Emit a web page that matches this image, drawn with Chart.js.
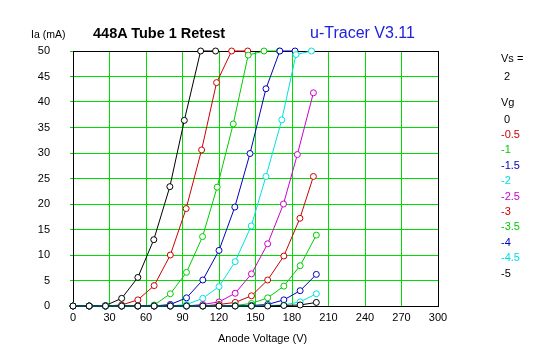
<!DOCTYPE html>
<html>
<head>
<meta charset="utf-8">
<script src="https://cdn.jsdelivr.net/npm/chart.js@4/dist/chart.umd.min.js"></script>
<style>
  html, body { margin: 0; padding: 0; background: #fff; }
  #wrap { position: relative; width: 547px; height: 357px; overflow: hidden; background: #fff; }
  #c { position: absolute; left: 0; top: 0; }
  .t { position: absolute; white-space: pre; font-family: "Liberation Sans", Arial, sans-serif; color: #000; }
</style>
</head>
<body>
<div id="wrap">
  <canvas id="c" width="547" height="357"></canvas>
  <div class="t" style="left:31px; top:27px; font-size:10.5px; line-height:14px;">Ia (mA)</div>
  <div class="t" style="left:93px; top:24px; font-size:14.5px; line-height:18px; font-weight:bold;">448A Tube 1 Retest</div>
  <div class="t" style="left:310px; top:23px; font-size:16px; line-height:20px; color:#2020dd;">u-Tracer V3.11</div>
  <div class="t" style="left:218px; top:331px; font-size:11px; line-height:14px;">Anode Voltage (V)</div>
  <div id="legend"></div>
</div>
<script>
// ---- data ----
const gridVoltages = ['Vs =', '2'];
const vgLabels = ['0', '-0.5', '-1', '-1.5', '-2', '-2.5', '-3', '-3.5', '-4', '-4.5', '-5'];
const vgColors = ['#000000', '#cc0000', '#00cc00', '#0000bb', '#00e0e0', '#cc00cc', '#cc0000', '#00cc00', '#0000bb', '#00e0e0', '#000000'];

// anode voltage (V) and anode current (mA) for each grid voltage
const voltsVg0    = [0, 13.3, 26.7, 40, 53.3, 66.4, 79.6, 91.5, 104.9, 117.2];
const currentVg0  = [0, 0, 0.1, 1.5, 5.6, 13.0, 23.4, 36.4, 50, 50];
const voltsVgM05   = [0, 13.3, 26.7, 40, 53.3, 66.7, 80, 93.0, 105.7, 118.0, 130.4, 143.6];
const currentVgM05 = [0, 0, 0, 0.2, 1.2, 4.0, 10.0, 19.1, 30.6, 43.8, 50, 50];
const voltsVgM1    = [0, 13.3, 26.7, 40, 53.3, 66.7, 80, 93.3, 106.5, 118.5, 131.7, 144.0, 157.0, 169.6];
const currentVgM1  = [0, 0, 0, 0, 0, 0.2, 2.4, 6.6, 13.6, 23.3, 35.7, 49.2, 50, 50];
const voltsVgM15   = [0, 13.3, 26.7, 40, 53.3, 66.7, 80, 93.3, 106.7, 120, 133.0, 145.5, 158.6, 170.0, 182.5];
const currentVgM15 = [0, 0, 0, 0, 0, 0, 0.3, 1.6, 5.1, 10.9, 19.4, 29.9, 42.6, 50, 50];
const voltsVgM2    = [0, 13.3, 26.7, 40, 53.3, 66.7, 80, 93.3, 106.7, 120, 133.3, 146.5, 158.6, 171.6, 183.3, 196.0];
const currentVgM2  = [0, 0, 0, 0, 0, 0, 0, 0.3, 1.5, 3.8, 8.7, 15.7, 25.4, 36.5, 49.3, 50];
const voltsVgM25   = [0, 13.3, 26.7, 40, 53.3, 66.7, 80, 93.3, 106.7, 120, 133.3, 146.7, 160, 173.0, 184.4, 197.6];
const currentVgM25 = [0, 0, 0, 0, 0, 0, 0, 0, 0.3, 0.8, 2.5, 6.3, 12.2, 20.0, 29.7, 41.8];
const voltsVgM3    = [0, 13.3, 26.7, 40, 53.3, 66.7, 80, 93.3, 106.7, 120, 133.3, 146.7, 160, 173.3, 186.5, 197.6];
const currentVgM3  = [0, 0, 0, 0, 0, 0, 0, 0, 0, 0.3, 0.7, 2.0, 5.1, 9.8, 17.2, 25.4];
const voltsVgM35   = [0, 13.3, 26.7, 40, 53.3, 66.7, 80, 93.3, 106.7, 120, 133.3, 146.7, 160, 173.3, 186.7, 200];
const currentVgM35 = [0, 0, 0, 0, 0, 0, 0, 0, 0, 0, 0.1, 0.5, 1.6, 3.9, 7.9, 13.9];
const voltsVgM4    = [0, 13.3, 26.7, 40, 53.3, 66.7, 80, 93.3, 106.7, 120, 133.3, 146.7, 160, 173.3, 186.7, 200];
const currentVgM4  = [0, 0, 0, 0, 0, 0, 0, 0, 0, 0, 0, 0.1, 0.3, 1.2, 3.0, 6.2];
const voltsVgM45   = [0, 13.3, 26.7, 40, 53.3, 66.7, 80, 93.3, 106.7, 120, 133.3, 146.7, 160, 173.3, 186.7, 200];
const currentVgM45 = [0, 0, 0, 0, 0, 0, 0, 0, 0, 0, 0, 0, 0.1, 0.2, 0.8, 2.4];
const voltsVgM5    = [0, 13.3, 26.7, 40, 53.3, 66.7, 80, 93.3, 106.7, 120, 133.3, 146.7, 160, 173.3, 186.7, 200];
const currentVgM5  = [0, 0, 0, 0, 0, 0, 0, 0, 0, 0, 0, 0, 0, 0.1, 0.2, 0.7];

const xTicks = [0, 30, 60, 90, 120, 150, 180, 210, 240, 270, 300];
const yTicks = [0, 5, 10, 15, 20, 25, 30, 35, 40, 45, 50];

const voltsAll = [voltsVg0, voltsVgM05, voltsVgM1, voltsVgM15, voltsVgM2, voltsVgM25, voltsVgM3, voltsVgM35, voltsVgM4, voltsVgM45, voltsVgM5];
const currentAll = [currentVg0, currentVgM05, currentVgM1, currentVgM15, currentVgM2, currentVgM25, currentVgM3, currentVgM35, currentVgM4, currentVgM45, currentVgM5];

// ---- legend text (right side) ----
const legend = document.getElementById('legend');
function addText(txt, left, cy, color) {
  const d = document.createElement('div');
  d.className = 't';
  d.textContent = txt;
  d.style.left = left + 'px';
  d.style.top = (cy - 7) + 'px';
  d.style.fontSize = '11px';
  d.style.lineHeight = '14px';
  d.style.color = color;
  legend.appendChild(d);
}
addText(gridVoltages[0], 501, 57.5, '#000');
addText(gridVoltages[1], 504, 75.5, '#000');
addText('Vg', 501, 101.5, '#000');
vgLabels.forEach((l, i) => {
  addText(l, l.startsWith('-') ? 501 : 504, 118.5 + i * 15.4, vgColors[i]);
});

// ---- chart ----
const GRID = '#00dd00';
const datasets = vgLabels.map((l, i) => ({
  label: 'Vg ' + l,
  data: voltsAll[i].map((v, k) => ({ x: v, y: currentAll[i][k] })),
  borderColor: vgColors[i],
  backgroundColor: '#ffffff',
  pointBackgroundColor: '#ffffff',
  pointBorderColor: vgColors[i],
  borderWidth: 1,
  pointRadius: 3,
  pointBorderWidth: 1,
  tension: 0,
  clip: false,
  order: vgLabels.length - i
}));

const frame = {
  id: 'frame',
  beforeDatasetsDraw(chart) {
    const a = chart.chartArea, ctx = chart.ctx;
    ctx.save();
    ctx.strokeStyle = '#000';
    ctx.lineWidth = 1;
    ctx.strokeRect(Math.round(a.left) + 0.5, Math.round(a.top) + 0.5, Math.round(a.right - a.left), Math.round(a.bottom - a.top));
    ctx.restore();
  }
};

new Chart(document.getElementById('c'), {
  type: 'line',
  data: { datasets },
  options: {
    responsive: false,
    animation: false,
    devicePixelRatio: 1,
    layout: { padding: { left: 0, right: 109, top: 51, bottom: 0 } },
    plugins: { legend: { display: false }, tooltip: { enabled: false }, title: { display: false } },
    scales: {
      x: {
        type: 'linear', min: 0, max: 300,
        afterBuildTicks(s) { s.ticks = xTicks.map(v => ({ value: v })); },
        ticks: { color: '#000', font: { family: 'Liberation Sans', size: 11 }, padding: 5, maxRotation: 0, autoSkip: false },
        grid: { color: GRID, lineWidth: 1, drawTicks: false },
        border: { color: '#000', width: 1 },
        afterFit(s) { s.height = 51; }
      },
      y: {
        type: 'linear', min: 0, max: 50,
        afterBuildTicks(s) { s.ticks = yTicks.map(v => ({ value: v })); },
        ticks: { color: '#000', font: { family: 'Liberation Sans', size: 11 }, padding: 20 },
        grid: { color: GRID, lineWidth: 1, drawTicks: true, tickLength: 3 },
        border: { color: '#000', width: 1 },
        afterFit(s) { s.width = 73; }
      }
    }
  },
  plugins: [frame]
});
</script>
</body>
</html>
